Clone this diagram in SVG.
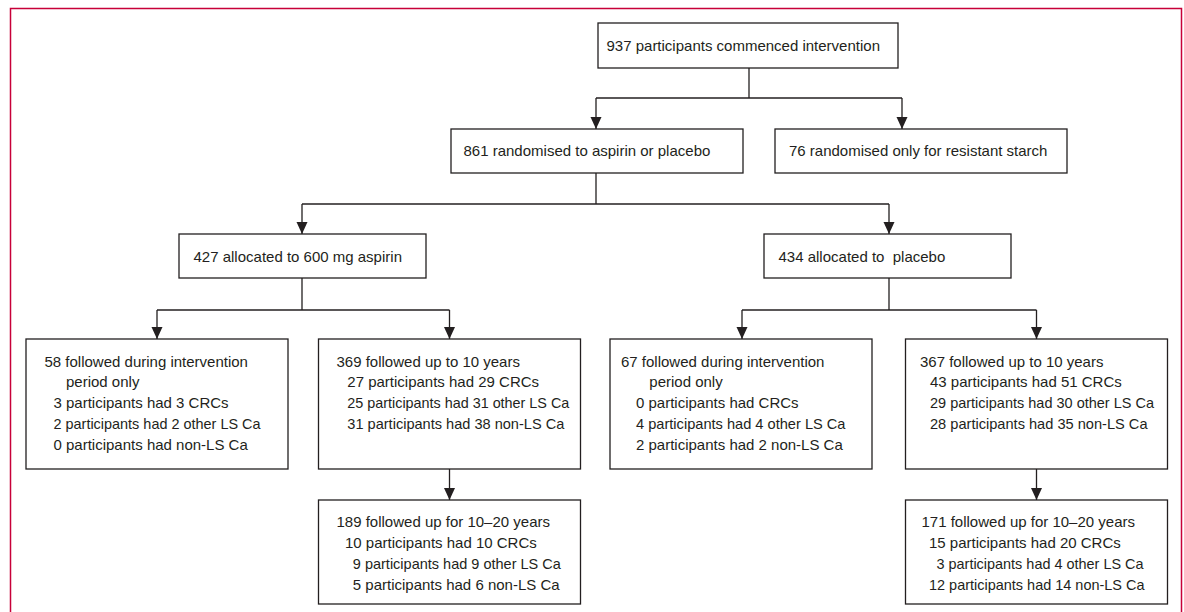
<svg xmlns="http://www.w3.org/2000/svg" width="1184" height="612" viewBox="0 0 1184 612">
<style>
.box{fill:#fff;stroke:#231f20;stroke-width:1.3}
.t{font-family:"Liberation Sans",Arial,sans-serif;font-size:15px;fill:#231f20}
.ln{fill:none;stroke:#231f20;stroke-width:1.3}
.arr{fill:none;stroke:#231f20;stroke-width:1.3;marker-end:url(#ah)}
</style>
<defs>
<marker id="ah" markerUnits="userSpaceOnUse" markerWidth="12" markerHeight="12" viewBox="0 0 12 12" refX="12" refY="6" orient="auto">
<path d="M0,0.5 L12,6 L0,11.5 z" fill="#231f20"/>
</marker>
</defs>
<rect width="1184" height="612" fill="#fff"/>
<path d="M10.5,612 V8.5 H1181.5 V612" fill="none" stroke="#c70039" stroke-width="1.5"/>

<g id="connectors">
<path class="ln" d="M749,68 V98"/>
<path class="ln" d="M596,98 H902"/>
<path class="arr" d="M596,98 V129"/>
<path class="arr" d="M902,98 V129"/>
<path class="ln" d="M596,173 V204"/>
<path class="ln" d="M302,204 H889"/>
<path class="arr" d="M302,204 V234"/>
<path class="arr" d="M889,204 V234"/>
<path class="ln" d="M302,278 V310"/>
<path class="ln" d="M157,310 H449.5"/>
<path class="arr" d="M157,310 V339"/>
<path class="arr" d="M449.5,310 V339"/>
<path class="ln" d="M889,278 V310"/>
<path class="ln" d="M742,310 H1036.5"/>
<path class="arr" d="M742,310 V339"/>
<path class="arr" d="M1036.5,310 V339"/>
<path class="arr" d="M449.5,469 V500"/>
<path class="arr" d="M1036.5,469 V500"/>
</g>

<g id="n1">
<rect class="box" x="598" y="23" width="300" height="45"/>
<text class="t" x="606.5" y="51">937 participants commenced intervention</text>
</g>
<g id="n2">
<rect class="box" x="451" y="129" width="292" height="44"/>
<text class="t" x="463.5" y="156">861 randomised to aspirin or placebo</text>
</g>
<g id="n3">
<rect class="box" x="775" y="129" width="292" height="44"/>
<text class="t" x="789" y="156">76 randomised only for resistant starch</text>
</g>
<g id="n4">
<rect class="box" x="179" y="234" width="247" height="44"/>
<text class="t" x="193.5" y="262">427 allocated to 600 mg aspirin</text>
</g>
<g id="n5">
<rect class="box" x="764" y="234" width="247" height="44"/>
<text class="t" x="778.5" y="262" xml:space="preserve">434 allocated to  placebo</text>
</g>
<g id="n6">
<rect class="box" x="26" y="339" width="262" height="130"/>
<text class="t" x="44.5" y="366.5">58 followed during intervention</text>
<text class="t" x="66" y="387.4">period only</text>
<text class="t" x="53.5" y="408.3">3 participants had 3 CRCs</text>
<text class="t" x="53.5" y="429.2" textLength="207" lengthAdjust="spacingAndGlyphs">2 participants had 2 other LS Ca</text>
<text class="t" x="53.5" y="450.1">0 participants had non-LS Ca</text>
</g>
<g id="n7">
<rect class="box" x="318.5" y="339" width="262" height="130"/>
<text class="t" x="336.5" y="366.5">369 followed up to 10 years</text>
<text class="t" x="347.3" y="387.4">27 participants had 29 CRCs</text>
<text class="t" x="347.3" y="408.3" textLength="222" lengthAdjust="spacingAndGlyphs">25 participants had 31 other LS Ca</text>
<text class="t" x="347.3" y="429.2" textLength="217" lengthAdjust="spacingAndGlyphs">31 participants had 38 non-LS Ca</text>
</g>
<g id="n8">
<rect class="box" x="610" y="339" width="262" height="130"/>
<text class="t" x="621" y="366.5">67 followed during intervention</text>
<text class="t" x="649.3" y="387.4">period only</text>
<text class="t" x="636" y="408.3">0 participants had CRCs</text>
<text class="t" x="636" y="429.2" textLength="209.5" lengthAdjust="spacingAndGlyphs">4 participants had 4 other LS Ca</text>
<text class="t" x="636" y="450.1">2 participants had 2 non-LS Ca</text>
</g>
<g id="n9">
<rect class="box" x="905.5" y="339" width="262" height="130"/>
<text class="t" x="920" y="366.5">367 followed up to 10 years</text>
<text class="t" x="930" y="387.4">43 participants had 51 CRCs</text>
<text class="t" x="930" y="408.3" textLength="224" lengthAdjust="spacingAndGlyphs">29 participants had 30 other LS Ca</text>
<text class="t" x="930" y="429.2" textLength="217.5" lengthAdjust="spacingAndGlyphs">28 participants had 35 non-LS Ca</text>
</g>
<g id="n10">
<rect class="box" x="318.5" y="500" width="262" height="104"/>
<text class="t" x="336.5" y="527.3">189 followed up for 10–20 years</text>
<text class="t" x="345" y="548.2">10 participants had 10 CRCs</text>
<text class="t" x="352.8" y="569.1" textLength="208" lengthAdjust="spacingAndGlyphs">9 participants had 9 other LS Ca</text>
<text class="t" x="352.8" y="590">5 participants had 6 non-LS Ca</text>
</g>
<g id="n11">
<rect class="box" x="905.5" y="500" width="262" height="104"/>
<text class="t" x="921.5" y="527.3">171 followed up for 10–20 years</text>
<text class="t" x="929" y="548.2">15 participants had 20 CRCs</text>
<text class="t" x="936.5" y="569.1" textLength="207" lengthAdjust="spacingAndGlyphs">3 participants had 4 other LS Ca</text>
<text class="t" x="929" y="590" textLength="215.5" lengthAdjust="spacingAndGlyphs">12 participants had 14 non-LS Ca</text>
</g>
</svg>
